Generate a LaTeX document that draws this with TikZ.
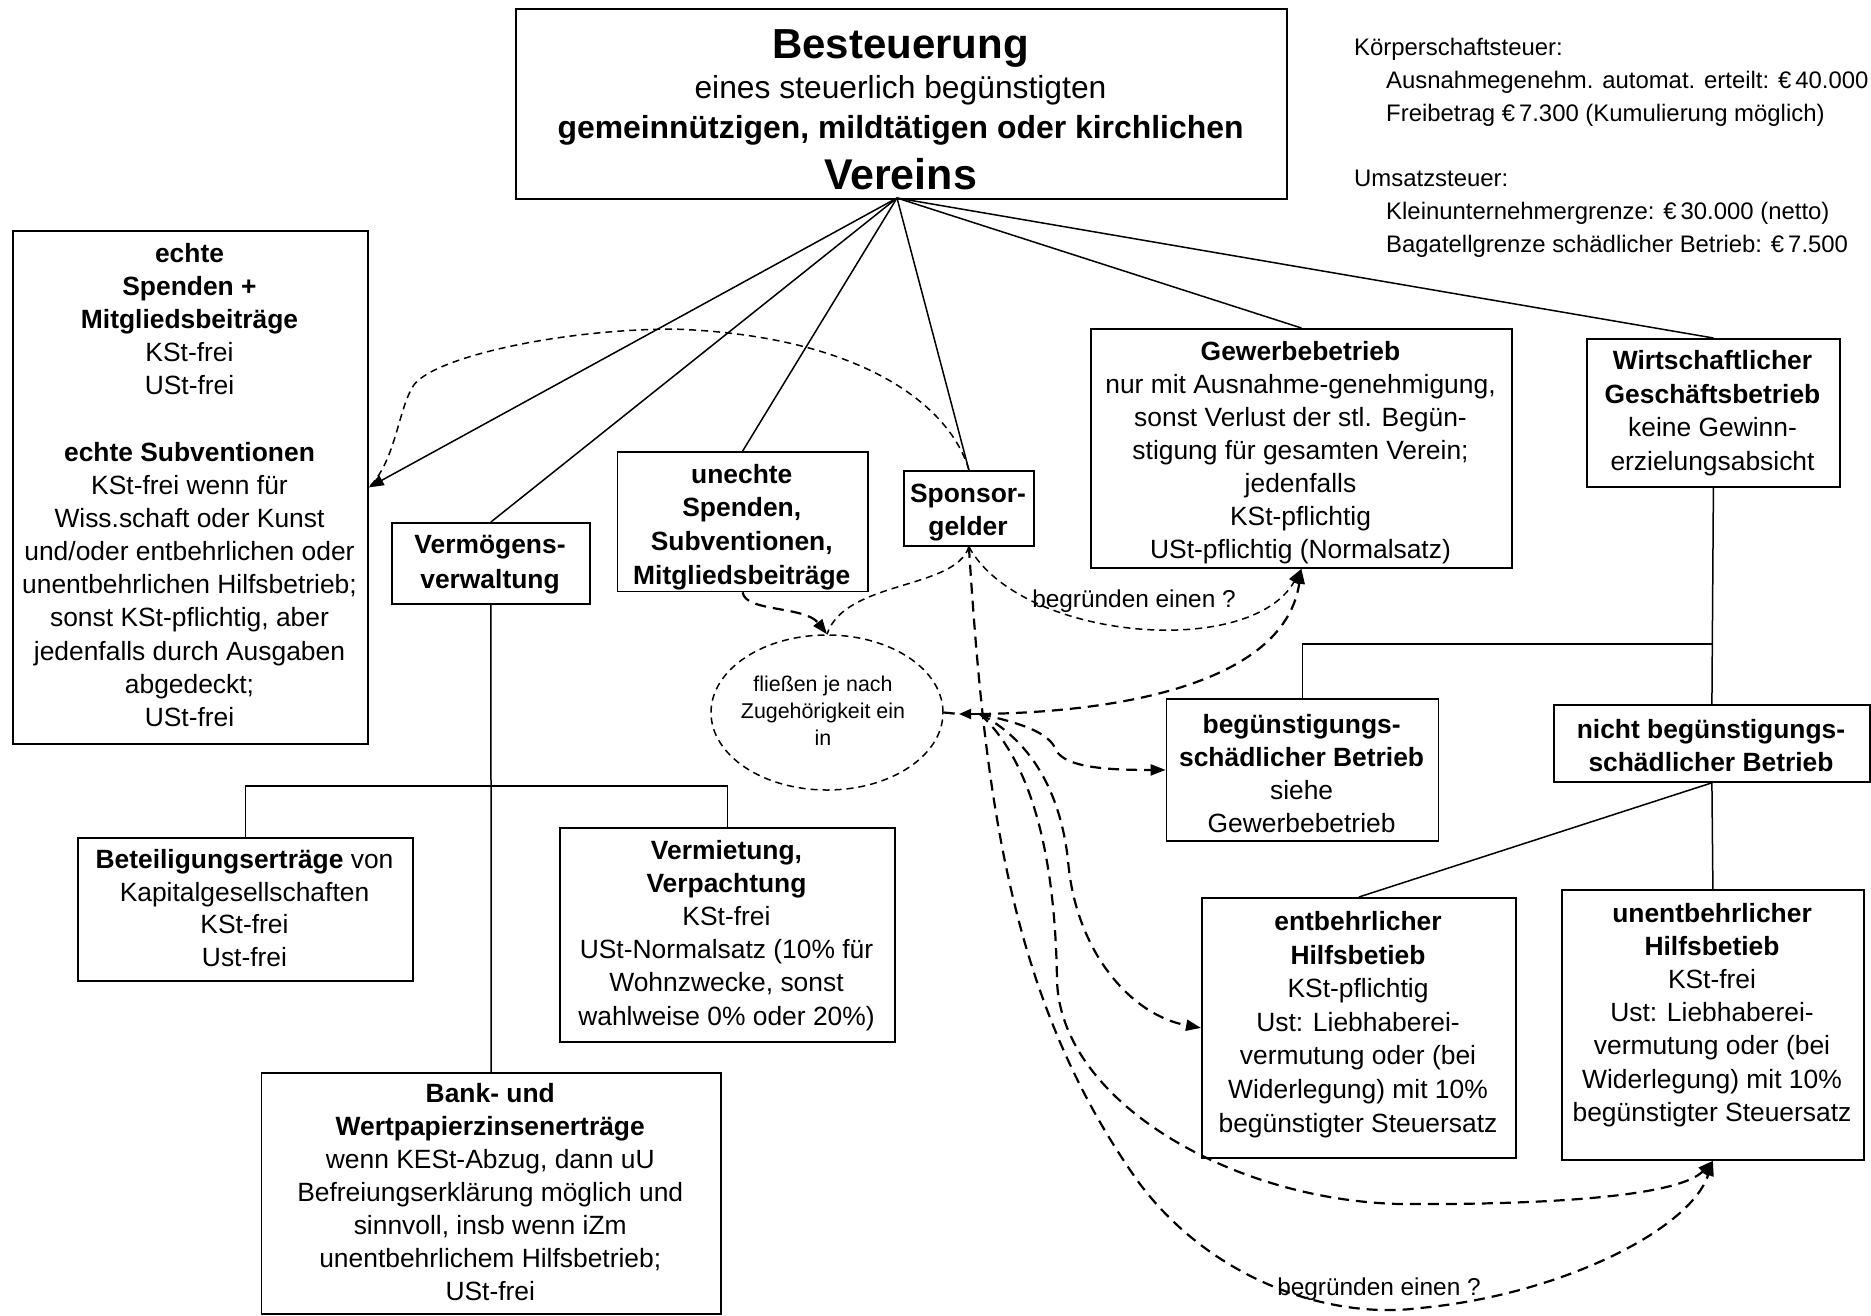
\documentclass[tikz,border=0pt]{standalone}
\usepackage{fontspec}
\setmainfont{Liberation Sans}
\usetikzlibrary{arrows.meta,shapes.geometric}
\tikzset{
  box/.style={draw, line width=1.8pt, inner sep=0pt, anchor=north west},
  txt/.style={align=center, anchor=base, inner sep=0pt, font=\fontsize{26.4}{#1}\selectfont},
  txt/.default=33,
  lbl/.style={anchor=base, inner sep=0pt, font=\fontsize{24.4}{32}\selectfont},
  note/.style={anchor=base west, inner sep=0pt, font=\fontsize{23.9}{32}\selectfont},
  conn/.style={line width=1.5pt},
  thindash/.style={line width=1.5pt, dash pattern=on 7pt off 5pt},
  thickdash/.style={line width=2.2pt, dash pattern=on 11pt off 7pt},
  arr/.style={-{Triangle[length=15pt,width=11pt]}},
}
\begin{document}
\begin{tikzpicture}[x=1pt,y=-1pt]
\useasboundingbox (0,0) rectangle (1871,1315);
\fill[white] (0,0) rectangle (1871,1315);

% title
\node[box, minimum width=771pt, minimum height=190pt] (title) at (515,8) {};
\node[anchor=base, inner sep=0pt, font=\bfseries\fontsize{42}{48}\selectfont] (t1) at (900.5,58) {Besteuerung};
\node[anchor=base, inner sep=0pt, font=\fontsize{31.8}{36}\selectfont] (t2) at (900.5,98) {eines steuerlich begünstigten};
\node[anchor=base, inner sep=0pt, font=\bfseries\fontsize{31.9}{36}\selectfont] (t3) at (900.5,138) {gemeinnützigen, mildtätigen oder kirchlichen};
\node[anchor=base, inner sep=0pt, font=\bfseries\fontsize{43}{48}\selectfont] (t4) at (900.5,189) {Vereins};
\coordinate (hub) at (897,198);

% top right notes
\node[note] (k1) at (1354,55.5) {Körperschaftsteuer:};
\node[note] (k2) at (1386,88.5) {Ausnahmegenehm. automat. erteilt: €\,40.000};
\node[note] (k3) at (1386,121.5) {Freibetrag €\,7.300 (Kumulierung möglich)};
\node[note] (u1) at (1354,186) {Umsatzsteuer:};
\node[note] (u2) at (1386,219) {Kleinunternehmergrenze: €\,30.000 (netto)};
\node[note] (u3) at (1386,252) {Bagatellgrenze schädlicher Betrieb: €\,7.500};

% boxes
\node[box, minimum width=355pt, minimum height=513pt] (echte) at (12,230) {};
\node[box, minimum width=198pt, minimum height=81pt] (verm) at (391,522) {};
\node[box, minimum width=250.5pt, minimum height=139.5pt] (unechte) at (616.5,451) {};
\node[box, minimum width=130pt, minimum height=75pt] (spon) at (903,470) {};
\node[box, minimum width=421pt, minimum height=239pt] (gew) at (1090,328) {};
\node[box, minimum width=253pt, minimum height=148pt] (wirt) at (1586,338) {};
\node[box, minimum width=272pt, minimum height=142pt] (beg) at (1165.6,698) {};
\node[box, minimum width=316pt, minimum height=77pt] (nicht) at (1553,704) {};
\node[box, minimum width=314pt, minimum height=260pt] (entb) at (1201,897) {};
\node[box, minimum width=302pt, minimum height=270pt] (unent) at (1561,889) {};
\node[box, minimum width=335pt, minimum height=143pt] (beteil) at (77,837) {};
\node[box, minimum width=335pt, minimum height=214pt] (vmiet) at (559,827) {};
\node[box, minimum width=459.5pt, minimum height=241pt] (bank) at (260.5,1072) {};
\node[ellipse, draw, thindash, minimum width=232pt, minimum height=155pt, inner sep=0pt] (ell) at (827,712.5) {};

% texts (anchor = baseline of the last line)
\node[txt=33.15] (echteT) at (189.5,726.4) {\textbf{echte}\\\textbf{Spenden +}\\\textbf{Mitgliedsbeiträge}\\KSt-frei\\USt-frei\\~\\\textbf{echte Subventionen}\\KSt-frei wenn für\\Wiss.schaft oder Kunst\\und/oder entbehrlichen oder\\unentbehrlichen Hilfsbetrieb;\\sonst KSt-pflichtig, aber\\jedenfalls durch Ausgaben\\abgedeckt;\\USt-frei};
\node[txt=34.5] (vermT) at (490,588) {\textbf{Vermögens-}\\\textbf{verwaltung}};
\node[txt=33.8] (unechteT) at (741.75,584.5) {\textbf{unechte}\\\textbf{Spenden,}\\\textbf{Subventionen,}\\\textbf{Mitgliedsbeiträge}};
\node[txt=33.5] (sponT) at (968,535.5) {\textbf{Sponsor-}\\\textbf{gelder}};
\node[txt=33] (gewT) at (1300.5,558) {\textbf{Gewerbebetrieb}\\nur mit Ausnahme-genehmigung,\\sonst Verlust der stl. Begün-\\stigung für gesamten Verein;\\jedenfalls\\KSt-pflichtig\\USt-pflichtig (Normalsatz)};
\node[txt=33.4] (wirtT) at (1712.5,470) {\textbf{Wirtschaftlicher}\\\textbf{Geschäftsbetrieb}\\keine Gewinn-\\erzielungsabsicht};
\node[txt=33] (begT) at (1301.6,832.6) {\textbf{begünstigungs-}\\\textbf{schädlicher Betrieb}\\siehe\\Gewerbebetrieb};
\node[txt=33.4] (nichtT) at (1711,771.8) {\textbf{nicht begünstigungs-}\\\textbf{schädlicher Betrieb}};
\node[txt=33.6] (entbT) at (1358,1132) {\textbf{entbehrlicher}\\\textbf{Hilfsbetieb}\\KSt-pflichtig\\Ust: Liebhaberei-\\vermutung oder (bei\\Widerlegung) mit 10\%\\begünstigter Steuersatz};
\node[txt=33.2] (unentT) at (1712,1121.3) {\textbf{unentbehrlicher}\\\textbf{Hilfsbetieb}\\KSt-frei\\Ust: Liebhaberei-\\vermutung oder (bei\\Widerlegung) mit 10\%\\begünstigter Steuersatz};
\node[txt=32.6] (beteilT) at (244.5,966.2) {\textbf{Beteiligungserträge} von\\Kapitalgesellschaften\\KSt-frei\\Ust-frei};
\node[txt=33.1] (vmietT) at (726.5,1025) {\textbf{Vermietung,}\\\textbf{Verpachtung}\\KSt-frei\\USt-Normalsatz (10\% für\\Wohnzwecke, sonst\\wahlweise 0\% oder 20\%)};
\node[txt=33] (bankT) at (490.25,1300) {\textbf{Bank- und}\\\textbf{Wertpapierzinsenerträge}\\wenn KESt-Abzug, dann uU\\Befreiungserklärung möglich und\\sinnvoll, insb wenn iZm\\unentbehrlichem Hilfsbetrieb;\\USt-frei};
\node[align=center, anchor=base, inner sep=0pt, font=\fontsize{21.4}{26.8}\selectfont] (ellT) at (823,745) {fließen je nach\\Zugehörigkeit ein\\in};

% solid connectors
\draw[conn, arr] (hub) -- (echte.east);
\draw[conn] (hub) -- (verm.north);
\draw[conn] (hub) -- (unechte.north);
\draw[conn] (hub) -- (spon.north);
\draw[conn] (hub) -- (gew.north);
\draw[conn] (hub) -- (wirt.north);
\draw[conn] (verm.south) -- (bank.north);
\coordinate (vb) at (490,786);
\draw[conn] (beteil.north) |- (vb) -| (vmiet.north);
\draw[conn] (wirt.south) -- (nicht.north);
\coordinate (rb) at (1712.5,644);
\draw[conn] (beg.north) |- (rb);
\draw[conn] (nicht.south) -- (entb.north);
\draw[conn] (nicht.south) -- (unent.north);

% dashed connectors
\draw[thindash] (spon.north) .. controls (950,405) and (860,335) .. (672,329)
  .. controls (550,330) and (425,360) .. (412,388)
  .. controls (398,412) and (395,462) .. (echte.east);
\draw[thickdash, arr] (unechte.south) .. controls (745,612) and (805,606) .. (ell.north);
\draw[thindash] (spon.south) .. controls (955,590) and (845,580) .. (ell.north);
\draw[thindash, arr] (spon.south) .. controls (1020,640) and (1250,660) .. (gew.south);
\node[lbl] (beg1) at (1134,607) {begründen einen ?};

\coordinate (J) at (980,714);
\coordinate (Jtip) at (959,714);
\draw[thickdash] (ell.east) -- (Jtip);
\draw[line width=2pt, -{Triangle[length=12pt,width=10pt]}] (J) -- (Jtip);
\draw[thickdash, arr] (J) .. controls (1130,712) and (1285,680) .. (gew.south);
\draw[thickdash, arr] (J) .. controls (1030,725) and (1050,735) .. (1056,750)
  .. controls (1065,768) and (1110,770) .. (beg.west);
\draw[thickdash, arr] (J) .. controls (1030,740) and (1060,790) .. (1068,860)
  .. controls (1075,950) and (1130,1015) .. (entb.west);
\draw[thickdash, arr] (J) .. controls (1030,760) and (1055,850) .. (1057,980)
  .. controls (1060,1100) and (1230,1200) .. (1400,1204)
  .. controls (1560,1205) and (1680,1195) .. (unent.south);
\draw[thickdash, arr] (spon.south) .. controls (985,800) and (1010,1000) .. (1137,1180)
  .. controls (1210,1280) and (1330,1320) .. (1420,1308)
  .. controls (1560,1295) and (1690,1230) .. (unent.south);
\node[lbl] (beg2) at (1379,1295) {begründen einen ?};
\end{tikzpicture}
\end{document}
